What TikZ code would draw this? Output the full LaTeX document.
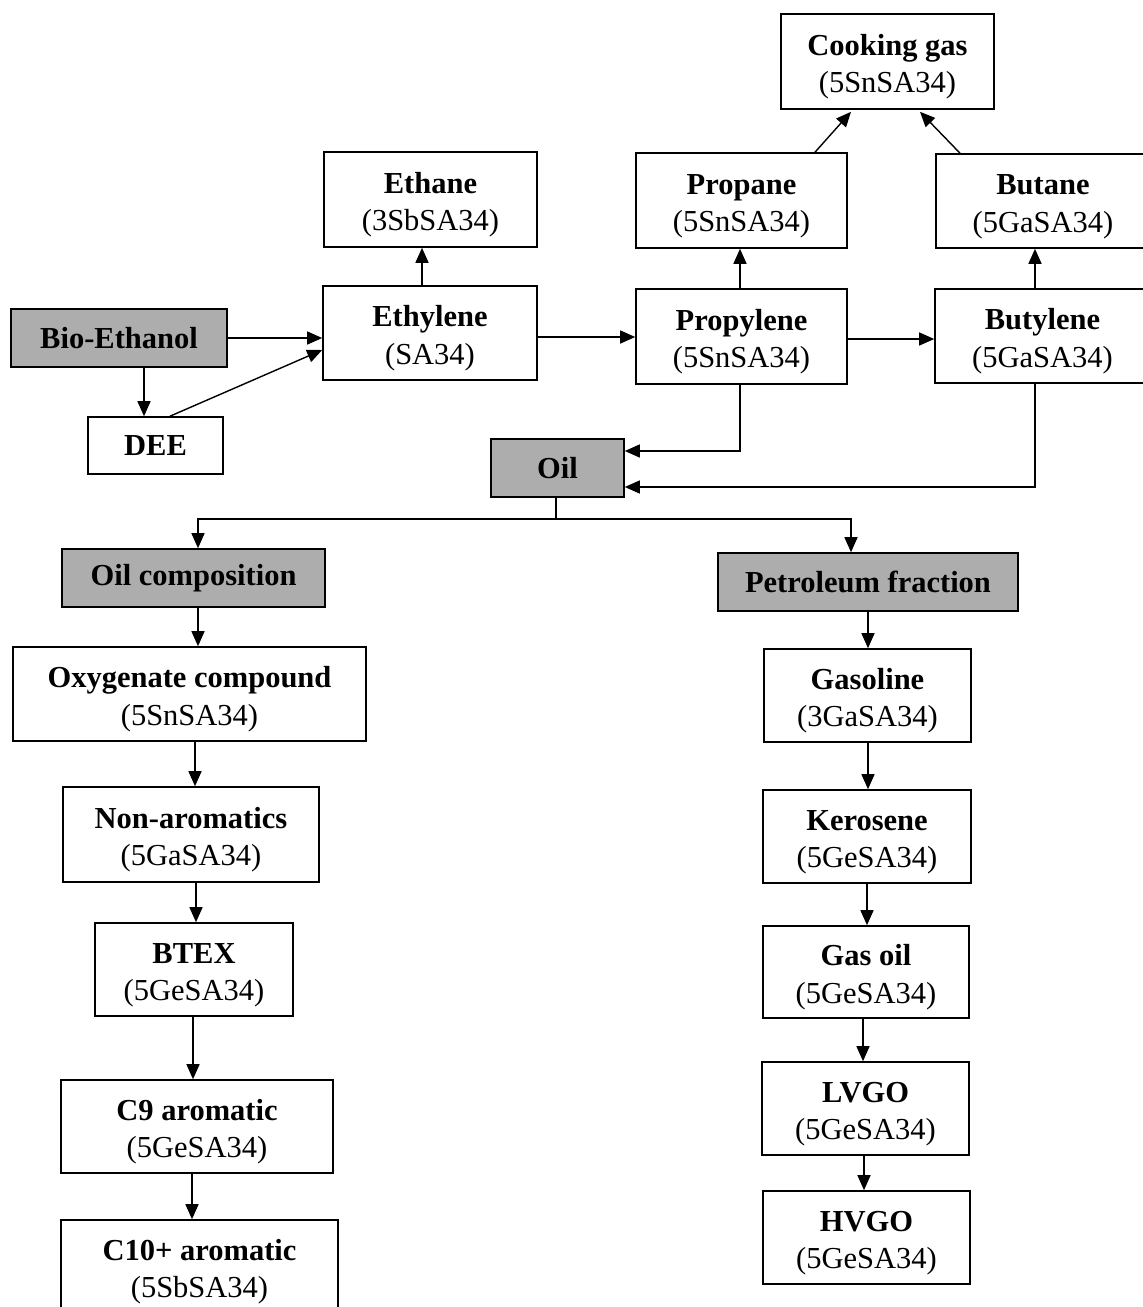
\documentclass[tikz,border=0pt]{standalone}
\usepackage{fontspec}
\setmainfont{Liberation Serif}
\usetikzlibrary{arrows.meta}
\newcommand{\nm}[1]{\rule{0pt}{31pt}{\bfseries #1}}
\begin{document}
\begin{tikzpicture}[x=1pt,y=-1pt,
  box/.style={draw=black, line width=1.6pt, fill=white, inner sep=0pt, align=center,
    font=\fontsize{30.5}{37.5}\selectfont},
  graybox/.style={box, fill=black!32, font=\fontsize{30.5}{37.5}\selectfont\bfseries},
  arr/.style={line width=1.4pt, -{Triangle[length=15pt,width=13pt]}},
  plain/.style={line width=1.4pt}]
\useasboundingbox (0,0) rectangle (1143,1307);
\fill[white] (0,0) rectangle (1143,1307);
% top row
\node[box, minimum width=213pt, minimum height=95pt] (cook) at (887.5,61.5) {\nm{Cooking gas}\\(5SnSA34)};
\node[box, minimum width=213pt, minimum height=95pt] (ethane) at (430.5,199.5) {\nm{Ethane}\\(3SbSA34)};
\node[box, minimum width=211pt, minimum height=95pt] (propane) at (741.5,200.5) {\nm{Propane}\\(5SnSA34)};
\node[box, minimum width=214pt, minimum height=94pt] (butane) at (1043,201) {\nm{Butane}\\(5GaSA34)};
\node[box, minimum width=214pt, minimum height=94pt] (ethylene) at (430,333) {\nm{Ethylene}\\(SA34)};
\node[box, minimum width=211pt, minimum height=95pt] (propylene) at (741.5,336.5) {\nm{Propylene}\\(5SnSA34)};
\node[box, minimum width=215pt, minimum height=94pt] (butylene) at (1042.5,336) {\nm{Butylene}\\(5GaSA34)};
\node[graybox, minimum width=216pt, minimum height=58pt] (bio) at (119,338) {Bio-Ethanol};
\node[box, minimum width=135pt, minimum height=57pt, font=\fontsize{30.5}{37.5}\selectfont\bfseries] (dee) at (155.5,445.5) {DEE};
\node[graybox, minimum width=133pt, minimum height=58pt] (oil) at (557.5,468) {Oil};
\node[graybox, minimum width=263pt, minimum height=58pt] (oilcomp) at (193.5,578) {Oil composition};
\node[graybox, minimum width=300pt, minimum height=58pt] (petro) at (868,582) {Petroleum fraction};
% left column
\node[box, minimum width=353pt, minimum height=94pt] (oxy) at (189.5,694) {\nm{Oxygenate compound}\\(5SnSA34)};
\node[box, minimum width=256pt, minimum height=95pt] (nonarom) at (191,834.5) {\nm{Non-aromatics}\\(5GaSA34)};
\node[box, minimum width=198pt, minimum height=93pt] (btex) at (194,969.5) {\nm{BTEX}\\(5GeSA34)};
\node[box, minimum width=272pt, minimum height=93pt] (c9) at (197,1126.5) {\nm{C9 aromatic}\\(5GeSA34)};
\node[box, minimum width=277pt, minimum height=93pt] (c10) at (199.5,1266.5) {\nm{C10+ aromatic}\\(5SbSA34)};
% right column
\node[box, minimum width=207pt, minimum height=93pt] (gasoline) at (867.5,695.5) {\nm{Gasoline}\\(3GaSA34)};
\node[box, minimum width=208pt, minimum height=93pt] (kero) at (867,836.5) {\nm{Kerosene}\\(5GeSA34)};
\node[box, minimum width=206pt, minimum height=92pt] (gasoil) at (866,972) {\nm{Gas oil}\\(5GeSA34)};
\node[box, minimum width=207pt, minimum height=93pt] (lvgo) at (865.5,1108.5) {\nm{LVGO}\\(5GeSA34)};
\node[box, minimum width=207pt, minimum height=93pt] (hvgo) at (866.5,1237.5) {\nm{HVGO}\\(5GeSA34)};
% connectors, top part
\draw[arr] (bio.east) -- (bio.east -| ethylene.west);
\draw[arr] ([xshift=25pt]bio.south) -- ([xshift=25pt]bio.south |- dee.north);
\draw[arr] ([xshift=14.5pt]dee.north) -- ([yshift=-17pt]ethylene.west);
\draw[arr] ([xshift=-8pt]ethylene.north) -- ([xshift=-8pt]ethylene.north |- ethane.south);
\draw[arr] ([yshift=-4pt]ethylene.east) -- ([yshift=-4pt]ethylene.east -| propylene.west);
\draw[arr] ([yshift=-2.5pt]propylene.east) -- ([yshift=-2.5pt]propylene.east -| butylene.west);
\draw[arr] ([xshift=-1.5pt]propylene.north) -- ([xshift=-1.5pt]propylene.north |- propane.south);
\draw[arr] ([xshift=-7.5pt]butylene.north) -- ([xshift=-7.5pt]butylene.north |- butane.south);
\draw[arr] ([xshift=73.5pt]propane.north) -- ([xshift=-36.5pt,yshift=-2pt]cook.south);
\draw[arr] ([xshift=-83pt]butane.north) -- ([xshift=32.5pt,yshift=-2pt]cook.south);
\draw[arr] ([xshift=-1.5pt]propylene.south) |- ([yshift=17pt]oil.east);
\draw[arr] ([xshift=-7.5pt]butylene.south) |- ([yshift=-19pt]oil.east);
% split from oil
\coordinate (split) at ([xshift=-1.5pt,yshift=-21pt]oil.south);
\draw[plain] ([xshift=-1.5pt]oil.south) -- (split);
\draw[arr] (split) -| ([xshift=4.5pt]oilcomp.north);
\draw[arr] (split) -| ([xshift=-17pt]petro.north);
% left chain
\draw[arr] ([xshift=4.5pt]oilcomp.south) -- ([xshift=4.5pt]oilcomp.south |- oxy.north);
\draw[arr] ([xshift=5.5pt]oxy.south) -- ([xshift=5.5pt]oxy.south |- nonarom.north);
\draw[arr] ([xshift=5pt]nonarom.south) -- ([xshift=5pt]nonarom.south |- btex.north);
\draw[arr] ([xshift=-1pt]btex.south) -- ([xshift=-1pt]btex.south |- c9.north);
\draw[arr] ([xshift=-5pt]c9.south) -- ([xshift=-5pt]c9.south |- c10.north);
% right chain
\draw[arr] (petro.south) -- (petro.south |- gasoline.north);
\draw[arr] ([xshift=0.5pt]gasoline.south) -- ([xshift=0.5pt]gasoline.south |- kero.north);
\draw[arr] (kero.south) -- (kero.south |- gasoil.north);
\draw[arr] ([xshift=-3pt]gasoil.south) -- ([xshift=-3pt]gasoil.south |- lvgo.north);
\draw[arr] ([xshift=-1.5pt]lvgo.south) -- ([xshift=-1.5pt]lvgo.south |- hvgo.north);
\end{tikzpicture}
\end{document}
